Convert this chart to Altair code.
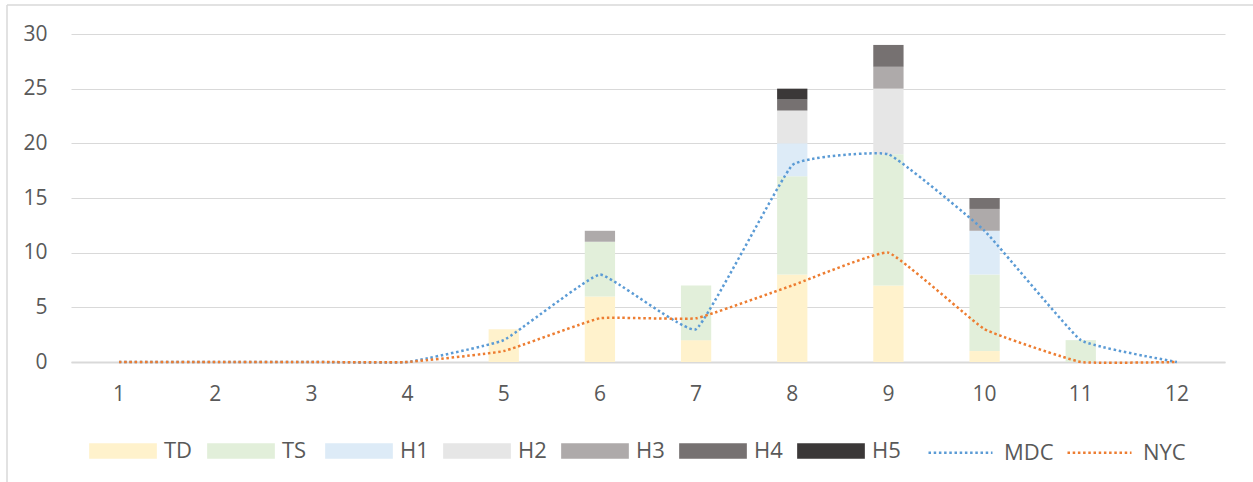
import altair as alt
import pandas as pd

months = list(range(1, 13))
categories = ["TD", "TS", "H1", "H2", "H3", "H4", "H5"]
td = [0, 0, 0, 0, 3, 6, 2, 8, 7, 1, 0, 0]
ts = [0, 0, 0, 0, 0, 5, 5, 9, 12, 7, 2, 0]
h1 = [0, 0, 0, 0, 0, 0, 0, 3, 0, 4, 0, 0]
h2 = [0, 0, 0, 0, 0, 0, 0, 3, 6, 0, 0, 0]
h3 = [0, 0, 0, 0, 0, 1, 0, 0, 2, 2, 0, 0]
h4 = [0, 0, 0, 0, 0, 0, 0, 1, 2, 1, 0, 0]
h5 = [0, 0, 0, 0, 0, 0, 0, 1, 0, 0, 0, 0]
cat_colors = ["#FFF2CC", "#E2EFDA", "#DDEBF7", "#E6E6E6", "#AEAAAA", "#767171", "#3B3838"]

series = ["MDC", "NYC"]
mdc = [0, 0, 0, 0, 2, 8, 3, 18, 19, 12, 2, 0]
nyc = [0, 0, 0, 0, 1, 4, 4, 7, 10, 3, 0, 0]
line_colors = ["#5B9BD5", "#ED7D31"]

y_ticks = [0, 5, 10, 15, 20, 25, 30]

FONT = "Open Sans"
TEXT = "#595959"
GRID = "#D9D9D9"

bar_rows = []
for ci, (cat, vals) in enumerate(zip(categories, [td, ts, h1, h2, h3, h4, h5])):
    for m, v in zip(months, vals):
        bar_rows.append({"month": str(m), "cat": cat, "order": ci, "count": v})
bars_df = pd.DataFrame(bar_rows)

line_rows = []
for s, vals in zip(series, [mdc, nyc]):
    for m, v in zip(months, vals):
        line_rows.append({"month": str(m), "series": s, "value": v})
lines_df = pd.DataFrame(line_rows)

month_sort = [str(m) for m in months]

x_enc = alt.X(
    "month:N",
    sort=month_sort,
    scale=alt.Scale(paddingInner=0.685, paddingOuter=0.3425),
    axis=alt.Axis(
        title=None, labelAngle=0, ticks=False, tickSize=0, grid=False,
        domain=True, domainColor=GRID, domainWidth=2, labelPadding=21,
    ),
)
y_scale = alt.Scale(domain=[0, 30], nice=False)

bars = alt.Chart(bars_df).mark_bar().encode(
    x=x_enc,
    y=alt.Y(
        "count:Q", stack="zero", scale=y_scale,
        axis=alt.Axis(
            title=None, values=y_ticks, grid=True, gridColor=GRID, gridWidth=1,
            domain=False, ticks=False, tickSize=0, labelPadding=24,
        ),
    ),
    fill=alt.Fill(
        "cat:N",
        scale=alt.Scale(domain=categories, range=cat_colors),
        legend=alt.Legend(
            title=None, orient="none", legendX=18, legendY=383,
            direction="horizontal", columns=7, gridAlign="all",
            symbolType="M-1,-0.232H1V0.232H-1Z", symbolSize=4583,
            symbolStrokeWidth=0, labelOffset=7, columnPadding=14,
            labelFont=FONT, labelFontSize=22, labelColor=TEXT,
        ),
    ),
    order=alt.Order("order:Q", sort="ascending"),
)

lines = alt.Chart(lines_df).mark_line(
    interpolate="cardinal", tension=0.7, strokeWidth=2.5, strokeDash=[2.5, 2.7]
).encode(
    x=alt.X("month:N", sort=month_sort),
    y=alt.Y("value:Q", scale=y_scale),
    stroke=alt.Stroke(
        "series:N",
        scale=alt.Scale(domain=series, range=line_colors),
        legend=alt.Legend(
            title=None, orient="none", legendX=856, legendY=385,
            direction="horizontal", columns=2, gridAlign="all",
            symbolType="stroke", symbolSize=4096, symbolStrokeWidth=2.5,
            symbolDash=[2.5, 2.7], labelOffset=10, columnPadding=8,
            labelFont=FONT, labelFontSize=22, labelColor=TEXT,
        ),
    ),
)

frame_df = pd.DataFrame({"a": [0]})
left_border = alt.Chart(frame_df).mark_rule(color=GRID, strokeWidth=1.5).encode(
    x=alt.value(-64), y=alt.value(-29), y2=alt.value(448)
)
top_border = alt.Chart(frame_df).mark_rule(color=GRID, strokeWidth=1.5).encode(
    x=alt.value(-64), x2=alt.value(1182), y=alt.value(-29)
)

chart = alt.layer(bars, lines, left_border, top_border).resolve_scale(
    fill="independent", stroke="independent"
).properties(
    width=1154, height=328, autosize="none",
    padding={"left": 71, "top": 34, "right": 28, "bottom": 120},
).configure_view(stroke=None).configure_axis(
    labelFont=FONT, labelFontSize=21, labelColor=TEXT
)

chart.save("out.html", embed_options={"renderer": "svg", "actions": False})
